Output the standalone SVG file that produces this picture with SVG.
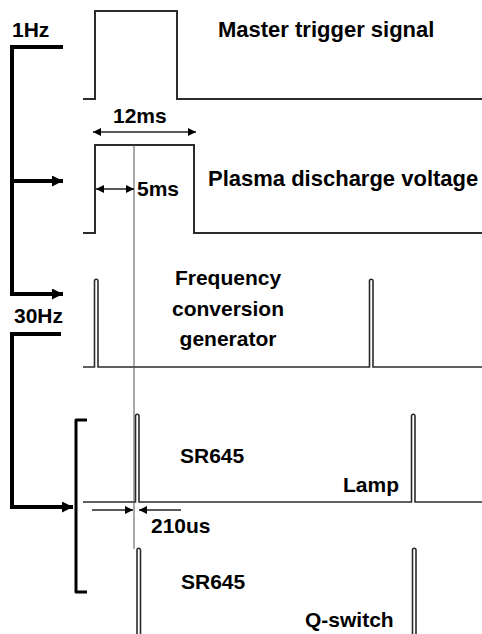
<svg xmlns="http://www.w3.org/2000/svg" width="482" height="634" viewBox="0 0 482 634">
<defs>
<style>
.wave{fill:none;stroke:#2b2b2b;stroke-width:2;stroke-linejoin:miter}
.spike{fill:none;stroke:#2b2b2b;stroke-width:1.6}
.dim{fill:none;stroke:#222;stroke-width:1.3}
.guide{fill:none;stroke:#555;stroke-width:1}
.brk{fill:none;stroke:#000;stroke-width:4;stroke-linejoin:miter}
.brk2{fill:none;stroke:#000;stroke-width:3;stroke-linejoin:round}
text{font-family:"Liberation Sans",Arial,sans-serif;font-weight:bold;font-size:21px;fill:#000}
.title{font-size:22px}
</style>
<marker id="dimHead" viewBox="0 0 10 10" refX="10" refY="5" markerWidth="9" markerHeight="8" markerUnits="userSpaceOnUse" orient="auto-start-reverse">
<path d="M0,0 L10,5 L0,10 z" fill="#000"/>
</marker>
<marker id="bigHead" viewBox="0 0 10 10" refX="10" refY="5" markerWidth="12" markerHeight="11" markerUnits="userSpaceOnUse" orient="auto">
<path d="M0,0 L10,5 L0,10 z" fill="#000"/>
</marker>
</defs>
<rect width="482" height="634" fill="#fff"/>

<g id="master-trigger">
<path class="wave" d="M83,99 H95 V11 H177 V99 H482"/>
<text class="title" x="218" y="37">Master trigger signal</text>
</g>

<g id="plasma-discharge">
<path class="wave" d="M83,233 H95 V145 H194 V233 H482"/>
<text class="title" x="208" y="186">Plasma discharge voltage</text>
</g>

<g id="frequency-generator">
<path class="spike" d="M83,367 H94.5 V281 A1.75,1.75 0 0 1 98,281 V367 H369.5 V281 A1.75,1.75 0 0 1 373,281 V367 H482"/>
<text x="228" y="285" text-anchor="middle">Frequency</text>
<text x="228" y="316" text-anchor="middle">conversion</text>
<text x="228" y="346" text-anchor="middle">generator</text>
</g>

<g id="lamp">
<path class="spike" d="M83,502 H135.5 V416 A1.75,1.75 0 0 1 139,416 V502 H411.5 V416 A1.75,1.75 0 0 1 415,416 V502 H482"/>
<text x="180" y="463">SR645</text>
<text x="343" y="492">Lamp</text>
</g>

<g id="q-switch">
<path class="spike" d="M137,634 V550 A1.75,1.75 0 0 1 140.5,550 V634"/>
<path class="spike" d="M412.5,634 V550 A1.75,1.75 0 0 1 416,550 V634"/>
<text x="181" y="589">SR645</text>
<text x="305" y="627">Q-switch</text>
</g>

<g id="label-1hz">
<text x="12" y="37">1Hz</text>
</g>
<g id="label-30hz">
<text x="14" y="323">30Hz</text>
</g>

<g id="timing">
<line class="guide" x1="134" y1="145" x2="134" y2="549"/>
<line class="dim" x1="93" y1="132" x2="196" y2="132" marker-start="url(#dimHead)" marker-end="url(#dimHead)"/>
<text x="113" y="123">12ms</text>
<line class="dim" x1="96" y1="189" x2="134" y2="189" marker-start="url(#dimHead)" marker-end="url(#dimHead)"/>
<text x="137" y="196">5ms</text>
<line class="dim" x1="92" y1="510" x2="133" y2="510" marker-end="url(#dimHead)"/>
<line class="dim" x1="181" y1="510" x2="139" y2="510" marker-end="url(#dimHead)"/>
<text x="151" y="533">210us</text>
</g>

<g id="connectors">
<path class="brk" d="M63,47 H12 V294 H63" marker-end="url(#bigHead)"/>
<path class="brk" d="M12,181 H63" marker-end="url(#bigHead)"/>
<path class="brk" d="M61,334 H12 V507 H73" marker-end="url(#bigHead)"/>
<path class="brk2" d="M87,420 H76 V592 H87"/>
</g>
</svg>
